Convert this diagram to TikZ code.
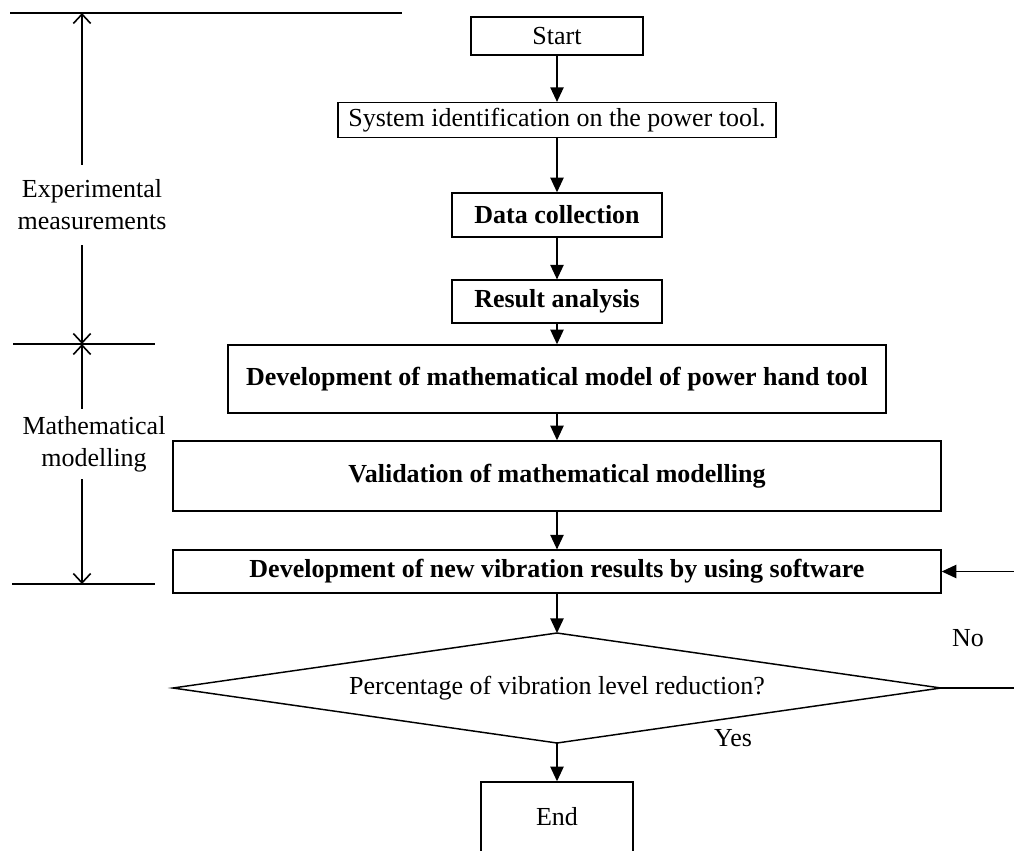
\documentclass[tikz,border=0pt]{standalone}
\usepackage{fontspec}
\setmainfont{Liberation Serif}
\usetikzlibrary{arrows.meta}
\tikzset{
  box/.style={draw, line width=1.1pt, fill=white, inner sep=0pt, font=\fontsize{19.5}{23}\selectfont},
  bbox/.style={box, font=\fontsize{19.5}{23}\selectfont\bfseries},
  flow/.style={line width=1.1pt, -{Triangle[width=10pt,length=11pt]}},
  dim/.style={line width=1.2pt, {Straight Barb[width=13pt,length=7pt]}-{Straight Barb[width=13pt,length=7pt]}},
  rule/.style={line width=1.3pt},
  lbl/.style={font=\fontsize{19.5}{24}\selectfont, align=center, fill=white, inner xsep=1pt},
  txt/.style={font=\fontsize{19.5}{23}\selectfont}
}
\begin{document}
\begin{tikzpicture}[x=0.75pt,y=-0.75pt]
\useasboundingbox (0,0) rectangle (1014,850);
% dimension rules
\coordinate (t1) at (10,13);  \coordinate (t2) at (402,13);
\coordinate (m1) at (13,344); \coordinate (m2) at (155,344);
\coordinate (b1) at (12,584); \coordinate (b2) at (155,584);
\coordinate (dt) at (82,13); \coordinate (dm) at (82,344); \coordinate (db) at (82,584);
\draw[rule] (t1) -- (t2);
\draw[rule] (m1) -- (m2);
\draw[rule] (b1) -- (b2);
\draw[dim] (dt) -- (dm);
\draw[dim] (dm) -- (db);
\node[lbl, minimum height=60pt] (exp) at (92,205) {Experimental\\measurements};
\node[lbl, minimum height=52pt] (math) at (94,444) {Mathematical\\modelling};
% boxes
\node[box, minimum width=129pt, minimum height=28.5pt] (start) at (557,36) {Start};
\node[box, minimum width=328.5pt, minimum height=26pt] (sys) at (557,120) {System identification on the power tool.};
\node[bbox, minimum width=157.5pt, minimum height=33pt] (data) at (557,215) {Data collection};
\node[bbox, minimum width=157.5pt, minimum height=32pt] (res) at (557,301.5) {Result analysis};
\node[bbox, minimum width=493.5pt, minimum height=51pt] (dmm) at (557,379) {Development of mathematical model of power hand tool};
\node[bbox, minimum width=576pt, minimum height=52.5pt] (val) at (557,476) {Validation of mathematical modelling};
\node[bbox, minimum width=576pt, minimum height=32pt] (dnv) at (557,571.5) {Development of new vibration results by using software};
\coordinate (dc) at (557,688);
\coordinate (dl) at (173,688); \coordinate (dr) at (941,688);
\coordinate (dtop) at (557,633); \coordinate (dbot) at (557,743);
\draw[line width=1.1pt, fill=white] (dl) -- (dtop) -- (dr) -- (dbot) -- cycle;
\node[txt] (q) at (dc) {Percentage of vibration level reduction?};
\node[box, minimum width=114pt, minimum height=52.5pt] (end) at (557,817) {End};
% flow
\draw[flow] (start) -- (sys);
\draw[flow] (sys) -- (data);
\draw[flow] (data) -- (res);
\draw[flow] (res) -- (dmm);
\draw[flow] (dmm) -- (val);
\draw[flow] (val) -- (dnv);
\draw[flow] (dnv) -- (dtop);
\draw[flow] (dbot) -- (end);
\coordinate (loop) at (1020,688);
\draw[flow] (dr) -- (loop) |- (dnv.east);
\node[txt] (no) at (968,638) {No};
\node[txt] (yes) at (733,738) {Yes};
\end{tikzpicture}
\end{document}
